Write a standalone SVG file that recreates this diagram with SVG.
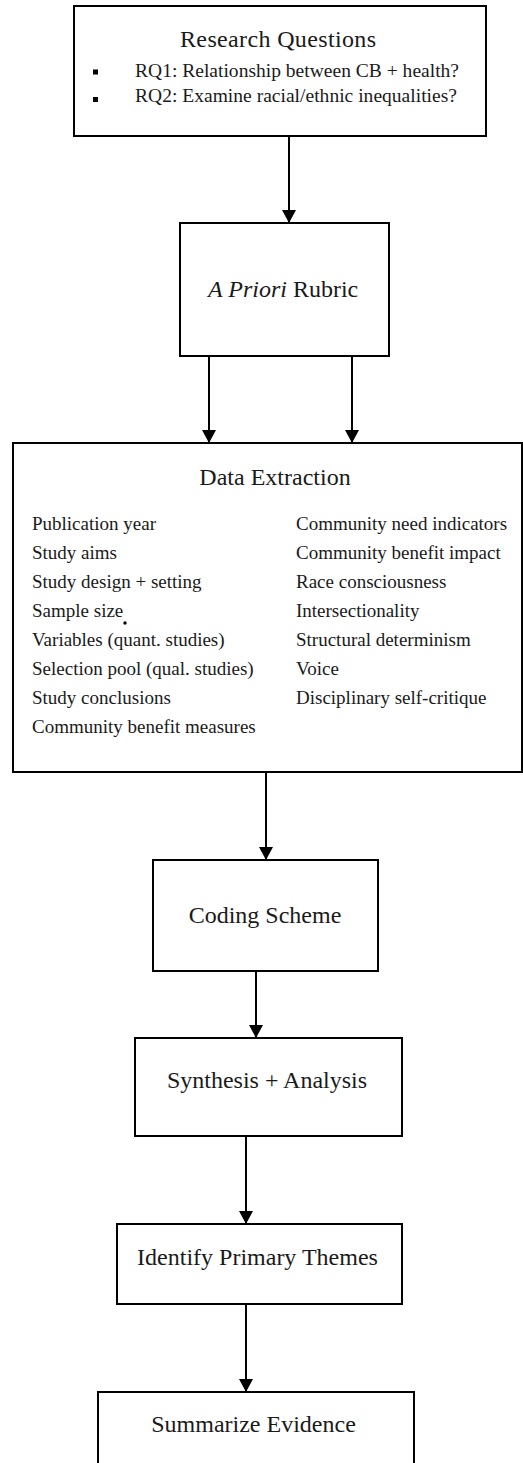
<svg xmlns="http://www.w3.org/2000/svg" width="523" height="1463" viewBox="0 0 523 1463">
<style>
.box{fill:#fff;stroke:#000;stroke-width:2}
.t{font-family:"Liberation Serif","Times New Roman",serif;fill:#1a1a1a}
.title{font-size:24px;text-anchor:middle}
.rq{font-size:19.5px}
.item{font-size:19px}
.con{stroke:#000;stroke-width:2;fill:none;marker-end:url(#arr)}
</style>
<defs>
<marker id="arr" markerUnits="userSpaceOnUse" markerWidth="13" markerHeight="14" viewBox="0 0 13 14" refX="13" refY="7" orient="auto">
<path d="M0,0 L13,7 L0,14 z" fill="#000"/>
</marker>
</defs>
<rect width="523" height="1463" fill="#fff"/>
<g id="connectors">
<line class="con" x1="289" y1="136" x2="289" y2="223"/>
<line class="con" x1="209" y1="356" x2="209" y2="443"/>
<line class="con" x1="352" y1="356" x2="352" y2="443"/>
<line class="con" x1="266" y1="772" x2="266" y2="860"/>
<line class="con" x1="256" y1="971" x2="256" y2="1038"/>
<line class="con" x1="246" y1="1136" x2="246" y2="1224"/>
<line class="con" x1="246" y1="1304" x2="246" y2="1392"/>
</g>
<g id="research-questions">
<rect class="box" x="74" y="6" width="412" height="130"/>
<text class="t title" x="278" y="47" textLength="196">Research Questions</text>
<rect x="93" y="69.5" width="5" height="5" fill="#000"/>
<rect x="93" y="97" width="5" height="5" fill="#000"/>
<text class="t rq" x="135" y="77" textLength="324">RQ1: Relationship between CB + health?</text>
<text class="t rq" x="135" y="102" textLength="322">RQ2: Examine racial/ethnic inequalities?</text>
</g>
<g id="a-priori-rubric">
<rect class="box" x="180" y="223" width="209" height="133"/>
<text class="t" x="208" y="297" font-size="24"><tspan font-style="italic">A Priori</tspan> Rubric</text>
</g>
<g id="data-extraction">
<rect class="box" x="13" y="443" width="509" height="329"/>
<text class="t title" x="275" y="485">Data Extraction</text>
<text class="t item" x="32" y="530">Publication year</text>
<text class="t item" x="32" y="559">Study aims</text>
<text class="t item" x="32" y="588">Study design + setting</text>
<text class="t item" x="32" y="617">Sample size</text>
<text class="t item" x="32" y="646">Variables (quant. studies)</text>
<text class="t item" x="32" y="675">Selection pool (qual. studies)</text>
<text class="t item" x="32" y="704">Study conclusions</text>
<text class="t item" x="32" y="733">Community benefit measures</text>
<text class="t item" x="296" y="530">Community need indicators</text>
<text class="t item" x="296" y="559">Community benefit impact</text>
<text class="t item" x="296" y="588">Race consciousness</text>
<text class="t item" x="296" y="617">Intersectionality</text>
<text class="t item" x="296" y="646">Structural determinism</text>
<text class="t item" x="296" y="675">Voice</text>
<text class="t item" x="296" y="704">Disciplinary self-critique</text>
<circle cx="125" cy="623" r="1.7" fill="#000"/>
</g>
<g id="coding-scheme">
<rect class="box" x="153" y="860" width="225" height="111"/>
<text class="t title" x="265" y="923">Coding Scheme</text>
</g>
<g id="synthesis-analysis">
<rect class="box" x="135" y="1038" width="267" height="98"/>
<text class="t title" x="267" y="1088">Synthesis + Analysis</text>
</g>
<g id="identify-primary-themes">
<rect class="box" x="117" y="1224" width="285" height="80"/>
<text class="t title" x="257.5" y="1265">Identify Primary Themes</text>
</g>
<g id="summarize-evidence">
<rect class="box" x="98" y="1392" width="316" height="90"/>
<text class="t title" x="253.5" y="1432">Summarize Evidence</text>
</g>
</svg>
